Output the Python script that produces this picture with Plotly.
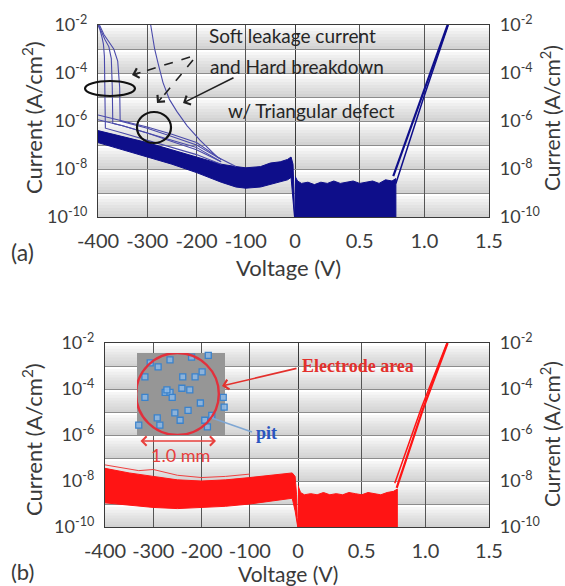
import plotly.graph_objects as go

W, H = 565, 586

# ---------------- Panel (a) data (log10 of current density, A/cm2) ----------------
# left half: voltage -400 .. 0 V
a_band_v = [-400, -350, -300, -250, -200, -150, -120, -100, -70, -50, -30, -15, -8, -4, -2, -1]
a_band_hi = [-6.4, -6.65, -6.9, -7.2, -7.5, -7.8, -7.9, -7.95, -7.9, -7.75, -7.7, -7.6, -7.5, -7.8, -9.0, -10.0]
a_band_lo = [-6.9, -7.2, -7.5, -7.8, -8.15, -8.55, -8.75, -8.8, -8.75, -8.65, -8.55, -8.45, -8.35, -9.5, -10.0, -10.0]

soft1_v = [-400, -396, -392, -389, -387, -386, -385, -350, -300, -250, -200, -150]
soft1_log = [-2.0, -2.2, -2.5, -2.8, -3.3, -4.6, -6.3, -6.5, -6.8, -7.1, -7.4, -7.8]
soft2_v = [-399, -393, -386, -378, -373, -371, -370, -350, -300, -250, -200, -150]
soft2_log = [-2.0, -2.3, -2.6, -2.9, -3.4, -4.6, -6.1, -6.2, -6.5, -6.85, -7.2, -7.7]
soft3_v = [-397, -388, -378, -368, -360, -356, -355, -300, -250, -200, -150]
soft3_log = [-2.0, -2.4, -2.7, -3.0, -3.5, -4.6, -6.0, -6.3, -6.65, -7.0, -7.6]

thin1_v = [-400, -350, -300, -250, -200, -150]
thin1_log = [-5.75, -6.0, -6.25, -6.55, -6.9, -7.6]
thin2_v = [-400, -350, -300, -250, -200, -150]
thin2_log = [-5.95, -6.2, -6.5, -6.8, -7.1, -7.7]

hard_v = [-293, -290, -285, -278, -268, -255, -240, -219, -193, -158, -120]
hard_log = [-2.0, -2.4, -3.0, -3.6, -4.4, -5.1, -5.6, -6.2, -6.8, -7.5, -7.9]

# right half: voltage 0 .. 1.5 V
a_plat_v = [0, 0.02, 0.05, 0.1, 0.15, 0.2, 0.25, 0.3, 0.35, 0.4, 0.45, 0.5, 0.55, 0.6, 0.65, 0.7, 0.75, 0.78]
a_plat_top = [-8.3, -8.5, -8.6, -8.55, -8.65, -8.55, -8.6, -8.5, -8.6, -8.55, -8.5, -8.6, -8.55, -8.5, -8.6, -8.45, -8.5, -8.4]
a_rise1_v = [0.76, 0.98, 1.18]
a_rise1_log = [-8.3, -5.0, -2.0]
a_rise2_v = [0.78, 0.99, 1.185]
a_rise2_log = [-8.6, -5.1, -2.0]

# ---------------- Panel (b) data ----------------
b_band_v = [-400, -350, -300, -250, -200, -150, -100, -60, -30, -12, -6, -3, -1.5, -0.5]
b_band_hi = [-7.45, -7.65, -7.8, -7.95, -8.0, -7.95, -7.85, -7.75, -7.7, -7.65, -7.8, -8.6, -9.6, -10.0]
b_band_lo = [-8.95, -9.05, -9.15, -9.2, -9.15, -9.1, -9.0, -8.9, -8.8, -8.75, -9.3, -9.8, -10.0, -10.0]
b_thin_v = [-400, -330, -300, -250, -200, -150, -100]
b_thin_log = [-7.3, -7.55, -7.5, -7.75, -7.85, -7.8, -7.7]

b_plat_v = [0, 0.02, 0.05, 0.1, 0.15, 0.2, 0.25, 0.3, 0.35, 0.4, 0.45, 0.5, 0.55, 0.6, 0.65, 0.7, 0.75, 0.78]
b_plat_top = [-8.2, -8.5, -8.6, -8.55, -8.6, -8.5, -8.6, -8.55, -8.6, -8.5, -8.55, -8.6, -8.5, -8.55, -8.6, -8.5, -8.45, -8.35]
b_rise1_v = [0.775, 0.98, 1.175]
b_rise1_log = [-8.3, -4.9, -2.0]
b_rise2_v = [0.76, 0.97, 1.17]
b_rise2_log = [-8.1, -4.8, -2.0]

# inset (pits on electrode photo), relative coordinates inside the photo
pit_x = [0.375, 0.24, 0.09, 0.52, 0.74, 0.81, 0.32, 0.375, 0.40, 0.60, 0.09, 0.72, 0.58, 0.43,
         0.23, 0.49, 0.02, 0.77, 0.98, 0.99, 0.85, 0.26, 0.80, 0.34, 0.66, 0.51, 0.15, 0.62]
pit_y = [0.915, 0.83, 0.71, 0.71, 0.77, 0.97, 0.52, 0.52, 0.46, 0.55, 0.46, 0.39, 0.30, 0.27,
         0.21, 0.18, 0.12, 0.18, 0.46, 0.34, 0.24, 0.12, 0.10, 0.55, 0.71, 0.57, 0.88, 0.95]

left_ticks = [-400, -300, -200, -100, 0]
left_ticktext = ['-400', '-300', '-200', '-100', '0']
right_ticks = [0.5, 1.0, 1.5]
right_ticktext = ['0.5', '1.0', '1.5']
y_ticks = [1e-10, 1e-8, 1e-6, 1e-4, 1e-2]
y_ticktext = ['10<sup>-10</sup>', '10<sup>-8</sup>', '10<sup>-6</sup>', '10<sup>-4</sup>', '10<sup>-2</sup>']
y_minor = [1e-9, 1e-7, 1e-5, 1e-3]


def lin(vals):
    return [10 ** v for v in vals]


def px(x):
    return x / W


def py(y):
    return 1 - y / H


NAVY = '#0e0e8a'
THIN = '#4a4aaa'
RED = '#ff1414'
RED_T = '#f04040'

fig = go.Figure()


def add(x, ylog, xa, ya, color, width=1.0, fill=None, fillcolor=None):
    fig.add_trace(go.Scatter(x=x, y=lin(ylog), xaxis=xa, yaxis=ya, mode='lines',
                             line=dict(color=color, width=width), fill=fill,
                             fillcolor=fillcolor, hoverinfo='skip', showlegend=False))


# panel (a) left
add(a_band_v, a_band_hi, 'x', 'y', NAVY, 1)
add(a_band_v, a_band_lo, 'x', 'y', NAVY, 1, fill='tonexty', fillcolor=NAVY)
for v, l in [(thin1_v, thin1_log), (thin2_v, thin2_log), (soft1_v, soft1_log),
             (soft2_v, soft2_log), (soft3_v, soft3_log), (hard_v, hard_log)]:
    add(v, l, 'x', 'y', THIN, 1.1)
# panel (a) right
add(a_plat_v + [a_plat_v[-1], a_plat_v[0]], a_plat_top + [-10, -10], 'x2', 'y3', NAVY, 1,
    fill='toself', fillcolor=NAVY)
add(a_rise1_v, a_rise1_log, 'x2', 'y3', NAVY, 2.2)
add(a_rise2_v, a_rise2_log, 'x2', 'y3', NAVY, 1.5)

# panel (b) left
add(b_band_v, b_band_hi, 'x3', 'y2', RED, 1)
add(b_band_v, b_band_lo, 'x3', 'y2', RED, 1, fill='tonexty', fillcolor=RED)
add(b_thin_v, b_thin_log, 'x3', 'y2', RED_T, 1)
# panel (b) right
add(b_plat_v + [b_plat_v[-1], b_plat_v[0]], b_plat_top + [-10, -10], 'x4', 'y4', RED, 1,
    fill='toself', fillcolor=RED)
add(b_rise1_v, b_rise1_log, 'x4', 'y4', RED, 2.2)
add(b_rise2_v, b_rise2_log, 'x4', 'y4', RED, 1.5)

# inset pits
fig.add_trace(go.Scatter(x=pit_x, y=pit_y, xaxis='x5', yaxis='y5', mode='markers',
                         marker=dict(symbol='square', size=6, color='rgba(140,185,230,0.85)',
                                     line=dict(color='#3a82cc', width=1.3)),
                         cliponaxis=False, hoverinfo='skip', showlegend=False))

ytickfont = dict(family='Lato', size=18, color='#3c3c3c')
xtickfont = dict(family='Lato', size=20, color='#3c3c3c')
PA = dict(l=98, m=295, r=489, t=25, b=217)
PB = dict(l=105, m=298, r=489, t=343, b=527)


def yax(P, anchor, side, mirror):
    return dict(type='log', range=[-10, -2], domain=[py(P['b']), py(P['t'])], anchor=anchor,
                side=side, tickvals=y_ticks, ticktext=y_ticktext, ticks='',
                ticklabelstandoff=6, showgrid=True, gridcolor='#8c8c8c', gridwidth=1,
                minor=dict(tickvals=y_minor, showgrid=True, gridcolor='#8c8c8c', gridwidth=1, ticks=''),
                showline=True, linecolor='#3a3a3a', linewidth=1.3, mirror=mirror, automargin=False,
                zeroline=False, tickfont=ytickfont, fixedrange=True)


def xax(d0, d1, anchor, rng, vals, text):
    return dict(range=rng, domain=[px(d0), px(d1)], anchor=anchor, tickvals=vals, ticktext=text,
                ticks='', ticklabelstandoff=6, showgrid=True, gridcolor='#555555', gridwidth=1,
                showline=True, linecolor='#3a3a3a', linewidth=1.3, mirror=True, automargin=False,
                zeroline=False, tickfont=xtickfont, fixedrange=True)


shapes = []
grad = ['#ffffff', '#f6f6f6', '#efefef', '#e9e9e9', '#e3e3e3', '#dedede', '#d9d9d9', '#d3d3d3']
for P in (PA, PB):
    dh = (P['b'] - P['t']) / 8
    for k in range(8):
        top = P['t'] + k * dh
        sh = dh / len(grad)
        for j, c in enumerate(grad):
            shapes.append(dict(type='rect', xref='paper', yref='paper', layer='below',
                               x0=px(P['l']), x1=px(P['r']),
                               y0=py(top + j * sh), y1=py(top + (j + 1) * sh + 0.5),
                               fillcolor=c, line=dict(width=0)))

# panel (a) markings
shapes.append(dict(type='circle', xref='paper', yref='paper', x0=px(85), x1=px(135),
                   y0=py(96), y1=py(81), line=dict(color='#111111', width=2.2)))
shapes.append(dict(type='circle', xref='paper', yref='paper', x0=px(137), x1=px(171),
                   y0=py(143), y1=py(112), line=dict(color='#111111', width=2.2)))
shapes.append(dict(type='line', xref='paper', yref='paper', x0=px(190), y0=py(57),
                   x1=px(136), y1=py(74), line=dict(color='#222222', width=1.6, dash='dash')))
shapes.append(dict(type='line', xref='paper', yref='paper', x0=px(193), y0=py(60),
                   x1=px(160), y1=py(100), line=dict(color='#222222', width=1.6, dash='dash')))

# panel (b) inset
shapes.append(dict(type='rect', xref='x5', yref='y5', x0=0, x1=1, y0=0, y1=1, layer='below',
                   fillcolor='#969696', line=dict(width=0)))
shapes.append(dict(type='circle', xref='x5', yref='y5', x0=-0.01, x1=0.93, y0=0.0, y1=1.0,
                   line=dict(color='#e2303c', width=2.4)))
shapes.append(dict(type='line', xref='paper', yref='paper', x0=px(212), y0=py(418),
                   x1=px(252), y1=py(432), line=dict(color='#7fa7d4', width=1.6)))

ann = []


def text(x, y, s, size, color='#333333', family='Lato', angle=0, xanchor='center'):
    ann.append(dict(x=px(x), y=py(y), xref='paper', yref='paper', text=s, showarrow=False,
                    xanchor=xanchor, yanchor='middle', textangle=angle,
                    font=dict(family=family, size=size, color=color)))


def arrow(tx, ty, fx, fy, color, width=1.5, head=4, size=1.2, side='end'):
    ann.append(dict(x=px(tx), y=py(ty), xref='paper', yref='paper', text='', showarrow=True,
                    ax=fx - tx, ay=fy - ty, arrowhead=head, arrowsize=size, arrowwidth=width,
                    arrowcolor=color, arrowside=side, startarrowhead=head, startarrowsize=size))


CUR = 'Current (A/cm<sup>2</sup>)'
text(32, 118, CUR, 22, '#3a3a3a', angle=-90)
text(550, 118, CUR, 21, '#3a3a3a', angle=-90)
text(32, 440, CUR, 22, '#3a3a3a', angle=-90)
text(550, 434, CUR, 21, '#3a3a3a', angle=-90)
text(288, 267, 'Voltage (V)', 22, '#3a3a3a')
text(288, 573, 'Voltage (V)', 21, '#3a3a3a')
text(22, 252, '(a)', 23, '#3a3a3a')
text(22, 571, '(b)', 22, '#3a3a3a')

text(292, 35, 'Soft leakage current', 19, '#262626')
text(297, 66, 'and Hard breakdown', 19, '#262626')
text(311, 110, 'w/ Triangular defect', 19, '#262626')
arrow(183, 103, 235, 77, '#222222', 1.6)
arrow(132, 75, 142, 72, '#222222', 1.6)
arrow(157, 103, 163, 96, '#222222', 1.6)

text(358, 366, '<b>Electrode area</b>', 18, '#e3302c', family='Liberation Serif')
arrow(222, 386, 298, 368, '#e3302c', 1.6)
text(266, 433, '<b>pit</b>', 18, '#2a55c0', family='Liberation Serif')
arrow(216, 441, 139, 441, '#e8403c', 1.5, side='end+start')
text(180, 455, '1.0 mm', 18, '#e8403c')

fig.update_layout(
    width=W, height=H, margin=dict(l=0, r=0, t=0, b=0, pad=0, autoexpand=False),
    paper_bgcolor='white', plot_bgcolor='white', showlegend=False, hovermode=False,
    xaxis=xax(PA['l'], PA['m'], 'y', [-400, 0], left_ticks, left_ticktext),
    xaxis2=xax(PA['m'], PA['r'], 'y3', [0, 1.5], right_ticks, right_ticktext),
    xaxis3=xax(PB['l'], PB['m'], 'y2', [-400, 0], left_ticks, left_ticktext),
    xaxis4=xax(PB['m'], PB['r'], 'y4', [0, 1.5], right_ticks, right_ticktext),
    yaxis=yax(PA, 'x', 'left', True),
    yaxis3=yax(PA, 'x2', 'right', False),
    yaxis2=yax(PB, 'x3', 'left', True),
    yaxis4=yax(PB, 'x4', 'right', False),
    xaxis5=dict(domain=[px(137), px(225)], range=[0, 1], visible=False, anchor='y5',
                fixedrange=True, automargin=False),
    yaxis5=dict(domain=[py(435), py(353)], range=[0, 1], visible=False, anchor='x5',
                fixedrange=True, automargin=False),
    shapes=shapes, annotations=ann,
)

fig.write_html('out.html', config={'displayModeBar': False},
               post_script="document.body.style.margin='0px';document.body.style.overflow='hidden';")
